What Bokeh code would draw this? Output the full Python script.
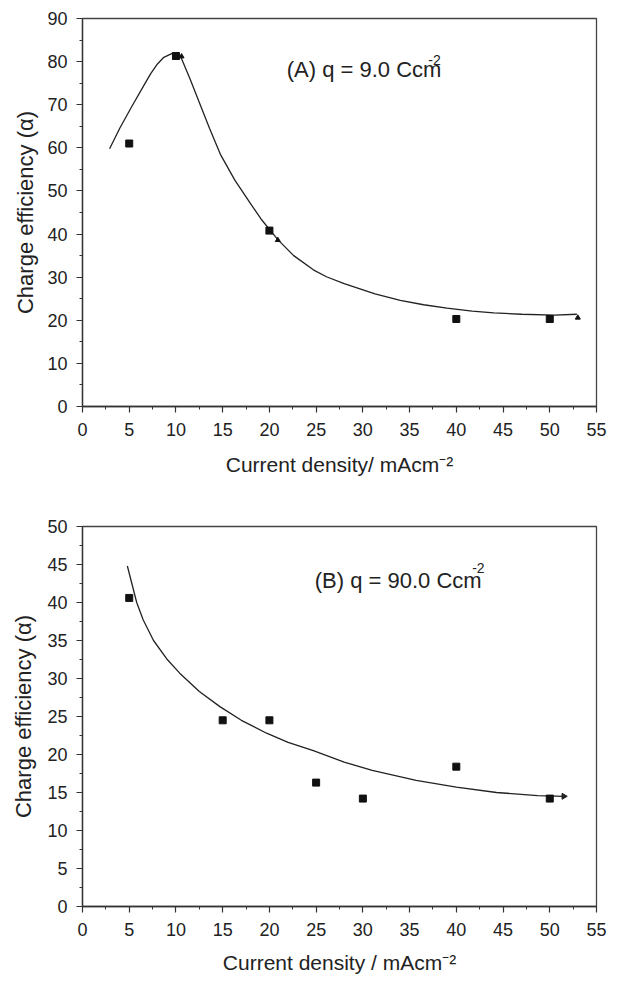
import math
from bokeh.plotting import figure
from bokeh.layouts import column
from bokeh.models import Label, FixedTicker, Range1d
from bokeh.embed import file_html
from bokeh.resources import INLINE

# ---------------- data ----------------
# Panel A: q = 9.0 C cm^-2
a_x = [5, 10, 20, 40, 50]
a_y = [61.0, 81.3, 40.8, 20.3, 20.3]
a_tri_x = [10.6, 20.9, 53.0]
a_tri_y = [81.2, 38.6, 20.6]
a_fit_x = [2.9, 4.0, 5.2, 6.6, 7.3, 8.0, 8.7, 9.6, 10.1, 10.5, 11.5, 12.5, 13.6,
           14.8, 16.3, 18.0, 19.1, 20.9, 22.6, 24.7, 26.1, 28.0, 31.3, 34.0, 36.5,
           39.0, 41.7, 44.0, 47.0, 50.5, 52.9]
a_fit_y = [59.8, 64.6, 69.3, 74.6, 77.2, 79.4, 81.0, 81.9, 81.8, 81.2, 76.0, 70.5,
           64.5, 58.3, 52.5, 47.0, 43.5, 38.7, 35.0, 31.7, 30.1, 28.5, 26.1, 24.6,
           23.6, 22.8, 22.1, 21.7, 21.4, 21.2, 21.4]

# Panel B: q = 90.0 C cm^-2
b_x = [5, 15, 20, 25, 30, 40, 50]
b_y = [40.6, 24.5, 24.5, 16.3, 14.2, 18.4, 14.2]
b_fit_x = [4.8, 5.8, 6.5, 7.6, 9.0, 10.4, 12.5, 14.7, 17.0, 19.7, 22.0, 24.7,
           28.0, 31.0, 35.7, 40.0, 44.3, 48.7, 51.5]
b_fit_y = [44.8, 40.0, 37.7, 35.0, 32.6, 30.7, 28.3, 26.3, 24.5, 22.8, 21.6, 20.5,
           19.0, 17.9, 16.6, 15.7, 15.0, 14.6, 14.5]

x_ticks = [0, 5, 10, 15, 20, 25, 30, 35, 40, 45, 50, 55]
x_minor = [2.5, 7.5, 12.5, 17.5, 22.5, 27.5, 32.5, 37.5, 42.5, 47.5, 52.5]
a_y_ticks = [0, 10, 20, 30, 40, 50, 60, 70, 80, 90]
a_y_minor = [5, 15, 25, 35, 45, 55, 65, 75, 85]
b_y_ticks = [0, 5, 10, 15, 20, 25, 30, 35, 40, 45, 50]
b_y_minor = [2.5, 7.5, 12.5, 17.5, 22.5, 27.5, 32.5, 37.5, 42.5, 47.5]

FONT = "Liberation Sans"
INK = "#222222"


def make_fig(height, ymax, yticks, yminor, xlabel, left, right, top, bottom,
             ylab_standoff, xlab_standoff):
    p = figure(width=620, height=height, x_range=Range1d(0, 55), y_range=Range1d(0, ymax),
               output_backend="svg", toolbar_location=None,
               min_border_left=left, min_border_right=right,
               min_border_top=top, min_border_bottom=bottom)
    p.xgrid.visible = False
    p.ygrid.visible = False
    p.outline_line_color = "#444444"
    p.outline_line_width = 1.3
    p.background_fill_color = "white"
    p.border_fill_color = "white"
    p.xaxis.ticker = FixedTicker(ticks=x_ticks, minor_ticks=x_minor)
    p.yaxis.ticker = FixedTicker(ticks=yticks, minor_ticks=yminor)
    for ax in (p.xaxis, p.yaxis):
        ax.axis_line_color = "#333333"
        ax.axis_line_width = 1.3
        ax.major_tick_line_color = "#333333"
        ax.minor_tick_line_color = "#333333"
        ax.major_tick_line_width = 1.2
        ax.minor_tick_line_width = 1.0
        ax.major_tick_out = 6
        ax.major_tick_in = 0
        ax.minor_tick_out = 3
        ax.minor_tick_in = 0
        ax.major_label_text_font = FONT
        ax.major_label_text_font_size = "18px"
        ax.major_label_text_color = "#222222"
        ax.axis_label_text_font = FONT
        ax.axis_label_text_font_style = "normal"
        ax.axis_label_text_color = "#222222"
    p.xaxis.axis_label_text_font_size = "21px"
    p.yaxis.axis_label_text_font_size = "22px"
    p.xaxis.major_label_standoff = 10
    p.yaxis.major_label_standoff = 9
    p.xaxis.axis_label = xlabel
    p.yaxis.axis_label = "Charge efficiency (\u03b1)"
    p.xaxis.axis_label_standoff = xlab_standoff
    p.yaxis.axis_label_standoff = ylab_standoff
    return p


# ---------------- panel A ----------------
pa = make_fig(486, 90, a_y_ticks, a_y_minor, "Current density/ mAcm\u207b\u00b2",
              75, 18, 18, 80, 6, 14)
pa.line(a_fit_x, a_fit_y, line_color=INK, line_width=1.3)
pa.scatter(a_x, a_y, marker="square", size=7, fill_color="#111111", line_color="#111111")
pa.scatter(a_tri_x, a_tri_y, marker="triangle", size=5, fill_color="#111111", line_color="#111111")
pa.add_layout(Label(x=21.85, y=78.2, text="(A) q = 9.0 Ccm", text_font=FONT,
                    text_font_size="22px", text_baseline="alphabetic", text_align="left",
                    text_color="#222222"))
pa.add_layout(Label(x=37.0, y=80.4, text="-2", text_font=FONT, text_font_size="14px",
                    text_baseline="alphabetic", text_align="left", text_color="#222222"))

# ---------------- panel B ----------------
pb = make_fig(494, 50, b_y_ticks, b_y_minor, "Current density / mAcm\u207b\u00b2",
              82, 24, 40, 74, 8, 12)
pb.line(b_fit_x, b_fit_y, line_color=INK, line_width=1.3)
pb.scatter(b_fit_x[-1:], b_fit_y[-1:], marker="triangle", size=6, angle=-math.pi / 2,
           fill_color=INK, line_color=INK)
pb.scatter(b_x, b_y, marker="square", size=7, fill_color="#111111", line_color="#111111")
pb.add_layout(Label(x=24.85, y=42.85, text="(B) q = 90.0 Ccm", text_font=FONT,
                    text_font_size="22px", text_baseline="alphabetic", text_align="left",
                    text_color="#222222"))
pb.add_layout(Label(x=41.7, y=44.5, text="-2", text_font=FONT, text_font_size="14px",
                    text_baseline="alphabetic", text_align="left", text_color="#222222"))

layout = column(pa, pb)
with open("out.html", "w") as f:
    f.write(file_html(layout, INLINE))
